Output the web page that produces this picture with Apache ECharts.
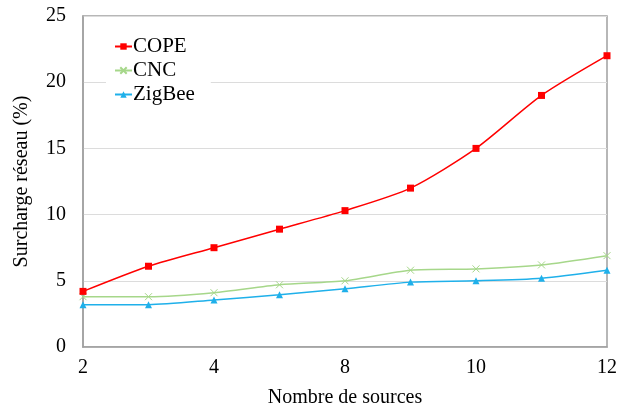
<!DOCTYPE html>
<html><head><meta charset="utf-8">
<script src="https://cdn.jsdelivr.net/npm/echarts@6/dist/echarts.min.js"></script>
<style>html,body{margin:0;padding:0;background:#fff}#c{width:618px;height:408px}</style>
</head><body><div id="c"></div>
<script>
const categories = ['2','3','4','6','8','9','10','11','12'];
const cope = [4.2, 6.1, 7.5, 8.9, 10.3, 12.0, 15.0, 19.0, 22.0];
const cnc = [3.8, 3.8, 4.1, 4.7, 5.0, 5.8, 5.9, 6.2, 6.9];
const zigbee = [3.2, 3.2, 3.55, 3.95, 4.4, 4.9, 5.0, 5.2, 5.8];
const yTicks = [0, 5, 10, 15, 20, 25];

const font = 'Liberation Serif';
const chart = echarts.init(document.getElementById('c'));
chart.setOption({
  animation: false,
  backgroundColor: '#fff',
  grid: {left: 83, right: 11, top: 16, bottom: 61, show: true, borderColor: '#a0a0a0', borderWidth: 1.5, backgroundColor: 'transparent', containLabel: false, outerBoundsMode: 'none'},
  legend: {
    orient: 'vertical', left: 106, top: 32, itemGap: 3,
    itemWidth: 17, itemHeight: 8,
    backgroundColor: '#fff', padding: [4, 16, 4, 8],
    textStyle: {fontFamily: font, fontSize: 21, color: '#000', padding: [0,0,0,-4]},
    data: ['COPE', 'CNC', 'ZigBee']
  },
  xAxis: {
    type: 'category', data: categories, boundaryGap: false,
    name: 'Nombre de sources', nameLocation: 'middle', nameGap: 41,
    nameTextStyle: {fontFamily: font, fontSize: 20, color: '#000'},
    axisLine: {lineStyle: {color: '#a0a0a0', width: 1.5}},
    axisTick: {show: false},
    axisLabel: {interval: 1, fontFamily: font, fontSize: 20, color: '#000', margin: 11},
    splitLine: {show: false}
  },
  yAxis: {
    type: 'value', min: yTicks[0], max: yTicks[yTicks.length-1], interval: 5,
    name: 'Surcharge réseau (%)', nameLocation: 'middle', nameGap: 51,
    nameTextStyle: {fontFamily: font, fontSize: 20, color: '#000'},
    axisLine: {show: true, lineStyle: {color: '#a0a0a0', width: 1.5}},
    axisTick: {show: false},
    axisLabel: {fontFamily: font, fontSize: 20, color: '#000', margin: 17},
    splitLine: {lineStyle: {color: '#dcdcdc', width: 1}}
  },
  series: [
    {name: 'COPE', type: 'line', data: cope, smooth: 0.25, symbol: 'rect', symbolSize: 7,
     lineStyle: {color: '#ff0000', width: 1.5}, itemStyle: {color: '#ff0000'}, z: 5},
    {name: 'CNC', type: 'line', data: cnc, smooth: 0.25,
     symbol: 'path://M0,0L10,10M10,0L0,10', symbolSize: 7,
     lineStyle: {color: '#a6d78a', width: 1.5}, itemStyle: {color: '#a6d78a', borderColor: '#a6d78a', borderWidth: 1}, z: 4},
    {name: 'ZigBee', type: 'line', data: zigbee, smooth: 0.25, symbol: 'triangle', symbolSize: 7,
     lineStyle: {color: '#1fb0ea', width: 1.5}, itemStyle: {color: '#1fb0ea'}, z: 3}
  ]
});
</script></body></html>
